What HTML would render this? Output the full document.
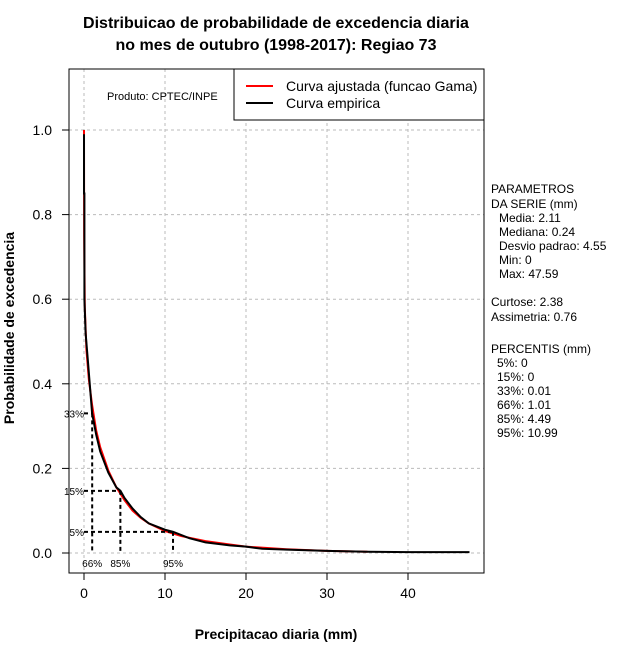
<!DOCTYPE html>
<html><head><meta charset="utf-8"><style>
body{margin:0;background:#fff}
svg{display:block;font-family:"Liberation Sans",sans-serif}
</style></head><body>
<svg id="c" width="640" height="660" xmlns="http://www.w3.org/2000/svg">
<text x="276" y="28" text-anchor="middle" font-size="16" font-weight="bold">Distribuicao de probabilidade de excedencia diaria</text>
<text x="276" y="50" text-anchor="middle" font-size="16" font-weight="bold">no mes de outubro (1998-2017): Regiao 73</text>
<text x="276" y="639" text-anchor="middle" font-size="14" font-weight="bold">Precipitacao diaria (mm)</text>
<text transform="translate(14,328) rotate(-90)" text-anchor="middle" font-size="14" font-weight="bold">Probabilidade de excedencia</text>
<g id="grid"></g>
<g id="axes"></g>
<g id="series"></g>
<g id="pct"></g>
<rect x="69" y="69" width="415" height="504" fill="none" stroke="#000"/>
<text x="107" y="100" font-size="11">Produto: CPTEC/INPE</text>
<g>
<rect x="234" y="69" width="250" height="51" fill="#fff" stroke="#000"/>
<line x1="246" y1="86" x2="273" y2="86" stroke="#f00" stroke-width="2"/>
<text x="286" y="91" font-size="14">Curva ajustada (funcao Gama)</text>
<line x1="246" y1="103" x2="273" y2="103" stroke="#000" stroke-width="2"/>
<text x="286" y="108" font-size="14">Curva empirica</text>
</g>
<g font-size="12">
<text x="491" y="193">PARAMETROS</text>
<text x="491" y="208">DA SERIE (mm)</text>
<text x="499" y="222">Media: 2.11</text>
<text x="499" y="236">Mediana: 0.24</text>
<text x="499" y="250">Desvio padrao: 4.55</text>
<text x="499" y="264">Min: 0</text>
<text x="499" y="278">Max: 47.59</text>
<text x="491" y="306">Curtose: 2.38</text>
<text x="491" y="321">Assimetria: 0.76</text>
<text x="491" y="353">PERCENTIS (mm)</text>
<text x="497" y="367">5%: 0</text>
<text x="497" y="381">15%: 0</text>
<text x="497" y="395">33%: 0.01</text>
<text x="497" y="409">66%: 1.01</text>
<text x="497" y="423">85%: 4.49</text>
<text x="497" y="437">95%: 10.99</text>
</g>
</svg>
<script>
const xTicks=[0,10,20,30,40];
const yTicks=[0,0.2,0.4,0.6,0.8,1.0];
const yTickLabels=["0.0","0.2","0.4","0.6","0.8","1.0"];
const empX=[0,0,0.05,0.05,0.2,0.5,1.0,1.5,2,3,4,4.5,5,6,7,8,10,11,13,15,18,20,22,25,30,35,40,47.59];
const empP=[0.99,0.85,0.85,0.6,0.52,0.45,0.33,0.28,0.24,0.19,0.155,0.147,0.13,0.105,0.085,0.07,0.055,0.05,0.035,0.025,0.018,0.015,0.01,0.008,0.005,0.003,0.002,0.002];
const fitX=[0,0.02,0.1,0.3,0.6,1,1.5,2,3,4,5,6,7,8,10,12,15,18,20,25,30,35];
const fitP=[1.0,0.75,0.58,0.48,0.41,0.35,0.29,0.25,0.195,0.155,0.125,0.1,0.083,0.07,0.052,0.04,0.028,0.02,0.015,0.009,0.005,0.003];
const pctLabels=["33%","15%","5%"];
const pctProb=[0.33,0.147,0.05];
const pctVal=[1.01,4.49,10.99];
const pctXLabels=["66%","85%","95%"];
const X=v=>84+v*8.1, Y=v=>553-v*423;
const NS="http://www.w3.org/2000/svg";
function mk(t,a,p){const e=document.createElementNS(NS,t);for(const k in a)e.setAttribute(k,a[k]);document.getElementById(p).appendChild(e);return e;}
xTicks.forEach(t=>{
 const g=mk('line',{x1:X(t),x2:X(t),y1:69,y2:573,stroke:'#bbb','stroke-dasharray':'3,3'},'grid');
 
 
 const k=mk('line',{x1:X(t),x2:X(t),y1:573,y2:580,stroke:'#000'},'axes');
 
 
 const l=mk('text',{x:X(t),y:598,'text-anchor':'middle','font-size':14},'axes');l.textContent=t;
 
 
});
yTicks.forEach((t,i)=>{
 const g=mk('line',{x1:69,x2:484,y1:Y(t),y2:Y(t),stroke:'#bbb','stroke-dasharray':'3,3'},'grid');
 
 
 const k=mk('line',{x1:62,x2:69,y1:Y(t),y2:Y(t),stroke:'#000'},'axes');
 
 
 const l=mk('text',{x:52,y:Y(t)+5,'text-anchor':'end','font-size':14},'axes');l.textContent=yTickLabels[i];
 
 
});
const fit=mk('polyline',{points:fitX.map((x,i)=>X(x)+','+Y(fitP[i])).join(' '),fill:'none',stroke:'#f00','stroke-width':2},'series');


const emp=mk('polyline',{points:empX.map((x,i)=>X(x)+','+Y(empP[i])).join(' '),fill:'none',stroke:'#000','stroke-width':2},'series');


pctProb.forEach((p,i)=>{
 const h=mk('line',{x1:X(0),x2:X(pctVal[i]),y1:Y(p),y2:Y(p),stroke:'#000','stroke-width':2,'stroke-dasharray':'4,3'},'pct');
 
 
 const v=mk('line',{x1:X(pctVal[i]),x2:X(pctVal[i]),y1:Y(p),y2:Y(0),stroke:'#000','stroke-width':2,'stroke-dasharray':'4,3'},'pct');
 
 
 const a=mk('text',{x:X(0),y:Y(p)+4,'text-anchor':'end','font-size':10},'pct');a.textContent=pctLabels[i];
 
 
 const b=mk('text',{x:X(pctVal[i]),y:567,'text-anchor':'middle','font-size':10},'pct');b.textContent=pctXLabels[i];
 
 
});
</script>
</body></html>
